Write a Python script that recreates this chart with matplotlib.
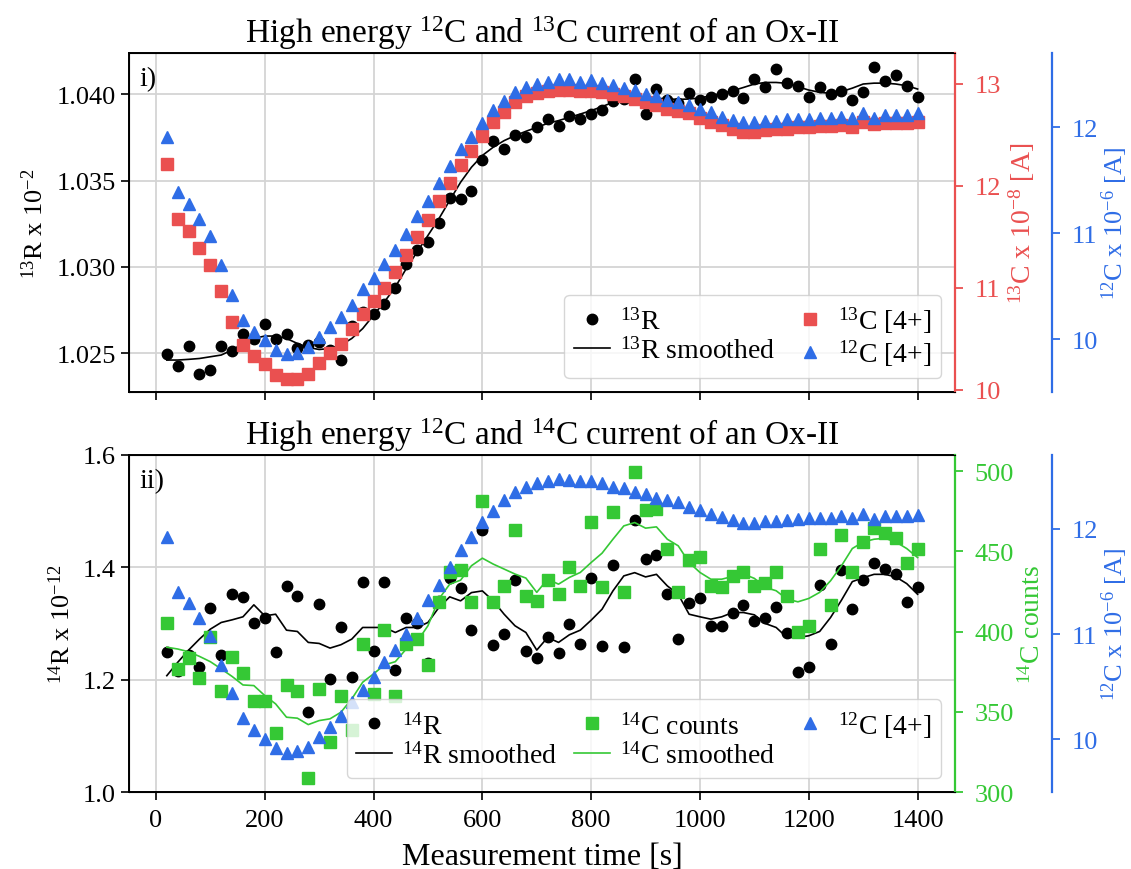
import numpy as np
import matplotlib
matplotlib.use("Agg")
import matplotlib.pyplot as plt

plt.rcParams["font.family"] = "serif"
plt.rcParams["font.serif"] = ["Liberation Serif", "DejaVu Serif"]
plt.rcParams["mathtext.fontset"] = "custom"
plt.rcParams["mathtext.rm"] = "Liberation Serif"
plt.rcParams["mathtext.it"] = "Liberation Serif:italic"
plt.rcParams["mathtext.bf"] = "Liberation Serif:bold"
plt.rcParams["font.size"] = 19

RED = "#ea5050"
BLUE = "#2f6de6"
GREEN = "#35c835"
GRID = "#d4d4d4"

# measurement time, one point every 20 s
time_s = np.arange(20, 1401, 20)

# ---- panel i) : 13C run ----
r13 = [1.02495, 1.02428, 1.02542, 1.02380, 1.02403, 1.02542, 1.02515, 1.02611, 1.02582, 1.02667,
       1.02582, 1.02609, 1.02530, 1.02550, 1.02567, 1.02520, 1.02461, 1.02657, 1.02740, 1.02730,
       1.02784, 1.02879, 1.03019, 1.03100, 1.03145, 1.03254, 1.03399, 1.03395, 1.03443, 1.03617,
       1.03728, 1.03684, 1.03765, 1.03751, 1.03809, 1.03857, 1.03815, 1.03877, 1.03857, 1.03886,
       1.03911, 1.03964, 1.03973, 1.04088, 1.03886, 1.04031, 1.03970, 1.03950, 1.04006, 1.03969,
       1.03983, 1.04002, 1.04021, 1.03979, 1.04088, 1.04044, 1.04146, 1.04064, 1.04046, 1.03983,
       1.04044, 1.04002, 1.04021, 1.03969, 1.04016, 1.04160, 1.04075, 1.04114, 1.04046, 1.03983]

r13_smooth = [1.02461, 1.02461, 1.02465, 1.02470, 1.02480, 1.02490, 1.02519, 1.02557, 1.02586, 1.02600,
              1.02600, 1.02586, 1.02557, 1.02534, 1.02522, 1.02528, 1.02548, 1.02586, 1.02643, 1.02721,
              1.02798, 1.02884, 1.02990, 1.03087, 1.03183, 1.03279, 1.03386, 1.03491, 1.03578, 1.03646,
              1.03694, 1.03732, 1.03761, 1.03786, 1.03809, 1.03832, 1.03848, 1.03867, 1.03886, 1.03906,
              1.03929, 1.03954, 1.03973, 1.03983, 1.03980, 1.03977, 1.03974, 1.03971, 1.03973, 1.03979,
              1.03992, 1.04006, 1.04021, 1.04040, 1.04060, 1.04069, 1.04069, 1.04064, 1.04044, 1.04025,
              1.04012, 1.04006, 1.04016, 1.04036, 1.04060, 1.04065, 1.04065, 1.04060, 1.04050, 1.04031]

c13_current = [12.21, 11.67, 11.56, 11.39, 11.22, 10.97, 10.67, 10.44, 10.33, 10.25,
               10.15, 10.11, 10.11, 10.16, 10.26, 10.36, 10.45, 10.60, 10.74, 10.87,
               11.00, 11.15, 11.32, 11.50, 11.66, 11.85, 12.03, 12.20, 12.34, 12.49,
               12.62, 12.72, 12.82, 12.88, 12.91, 12.93, 12.94, 12.94, 12.93, 12.93,
               12.92, 12.90, 12.88, 12.85, 12.82, 12.79, 12.75, 12.73, 12.71, 12.66,
               12.62, 12.59, 12.56, 12.53, 12.53, 12.55, 12.56, 12.56, 12.57, 12.57,
               12.58, 12.58, 12.59, 12.57, 12.62, 12.60, 12.61, 12.61, 12.61, 12.62]

c12_current_a = [11.91, 11.39, 11.27, 11.13, 10.97, 10.70, 10.42, 10.18, 10.07, 9.99,
                 9.90, 9.86, 9.87, 9.92, 10.02, 10.11, 10.21, 10.32, 10.47, 10.58,
                 10.71, 10.84, 10.99, 11.16, 11.30, 11.47, 11.63, 11.79, 11.91, 12.04,
                 12.16, 12.25, 12.33, 12.38, 12.41, 12.43, 12.45, 12.45, 12.43, 12.44,
                 12.42, 12.40, 12.37, 12.35, 12.31, 12.29, 12.26, 12.24, 12.21, 12.17,
                 12.14, 12.10, 12.07, 12.05, 12.05, 12.06, 12.06, 12.08, 12.08, 12.08,
                 12.09, 12.09, 12.10, 12.09, 12.13, 12.09, 12.11, 12.11, 12.11, 12.13]

# ---- panel ii) : 14C run ----
r14 = [1.2485, 1.2148, 1.2432, 1.2231, 1.3284, 1.2444, 1.3533, 1.3474, 1.3005, 1.3106,
       1.2485, 1.3669, 1.3491, 1.1432, 1.3343, 1.2011, 1.2941, 1.2041, 1.3745, 1.2515,
       1.3740, 1.2178, 1.3089, 1.3005, 1.2290, 1.3400, 1.3816, 1.3627, 1.2882, 1.4657,
       1.2615, 1.2810, 1.3769, 1.2515, 1.2379, 1.2751, 1.2467, 1.2988, 1.2633, 1.3816,
       1.2604, 1.4035, 1.2574, 1.4834, 1.4154, 1.4212, 1.3520, 1.2722, 1.3360, 1.3449,
       1.2947, 1.2947, 1.3195, 1.3325, 1.3048, 1.3089, 1.3302, 1.2828, 1.2130, 1.2231,
       1.3687, 1.2633, 1.3946, 1.3266, 1.3769, 1.4083, 1.3976, 1.3888, 1.3390, 1.3651]

r14_smooth = [1.2071, 1.2308, 1.2526, 1.2722, 1.2899, 1.3018, 1.3065, 1.3119, 1.3332, 1.3136,
              1.3165, 1.2881, 1.2858, 1.2663, 1.2645, 1.2562, 1.2622, 1.2722, 1.2929, 1.2929,
              1.2929, 1.2840, 1.2929, 1.2929, 1.3018, 1.3284, 1.3474, 1.3403, 1.3550, 1.3580,
              1.3403, 1.3165, 1.2959, 1.2840, 1.2526, 1.2751, 1.2663, 1.2799, 1.2881, 1.3059,
              1.3254, 1.3580, 1.3847, 1.3905, 1.3829, 1.3875, 1.3669, 1.3520, 1.3165, 1.3119,
              1.3077, 1.3119, 1.3195, 1.3195, 1.3154, 1.3000, 1.2929, 1.2751, 1.2751, 1.2781,
              1.2858, 1.3106, 1.3414, 1.3745, 1.3816, 1.3875, 1.3875, 1.3829, 1.3710, 1.3520]

c14_counts = [405.1, 376.7, 383.3, 370.9, 396.8, 363.2, 384.0, 374.0, 357.0, 357.0,
              336.9, 366.7, 362.8, 308.9, 364.2, 331.1, 359.7, 338.9, 392.2, 361.1,
              401.1, 360.1, 392.2, 395.3, 379.2, 418.2, 437.2, 438.4, 418.2, 481.3,
              418.2, 428.5, 463.3, 422.3, 419.2, 432.2, 423.3, 440.3, 428.5, 468.5,
              427.5, 474.5, 424.4, 499.6, 475.6, 476.6, 451.7, 424.4, 444.5, 446.5,
              428.5, 427.5, 434.3, 437.2, 428.5, 430.2, 437.2, 422.3, 399.5, 403.2,
              451.7, 416.5, 460.0, 437.2, 455.5, 464.2, 461.3, 458.1, 442.4, 451.3]

c14_smooth = [390.2, 389.1, 387.4, 384.5, 381.2, 376.7, 372.0, 366.7, 366.3, 360.1,
              354.9, 346.6, 346.0, 342.0, 344.5, 345.6, 349.7, 358.0, 368.4, 373.6,
              379.2, 381.2, 389.1, 393.7, 403.6, 420.2, 429.5, 432.0, 441.0, 445.7,
              442.0, 438.9, 435.8, 433.3, 424.4, 432.6, 429.5, 433.7, 436.8, 443.0,
              448.8, 457.5, 465.8, 467.9, 464.4, 465.2, 457.5, 453.4, 443.0, 436.8,
              432.6, 432.6, 434.3, 435.8, 433.1, 427.5, 425.4, 420.2, 418.5, 420.6,
              424.4, 431.6, 440.9, 451.7, 455.8, 457.5, 458.1, 455.8, 451.7, 446.1]

c12_current_b = [11.92, 11.40, 11.29, 11.15, 10.98, 10.71, 10.44, 10.20, 10.09, 10.00,
                 9.92, 9.87, 9.89, 9.93, 10.02, 10.12, 10.22, 10.35, 10.47, 10.59,
                 10.73, 10.85, 11.00, 11.15, 11.32, 11.47, 11.64, 11.80, 11.92, 12.06,
                 12.17, 12.27, 12.35, 12.40, 12.43, 12.45, 12.47, 12.46, 12.45, 12.45,
                 12.43, 12.40, 12.39, 12.35, 12.33, 12.29, 12.27, 12.25, 12.21, 12.18,
                 12.14, 12.11, 12.08, 12.05, 12.05, 12.07, 12.07, 12.08, 12.09, 12.10,
                 12.10, 12.10, 12.12, 12.10, 12.14, 12.09, 12.12, 12.12, 12.12, 12.13]

TITLE_FS = 24
LEG_KW = dict(fontsize=20, handlelength=1.3, handletextpad=0.35, labelspacing=0.1,
              borderpad=0.35, framealpha=0.8, loc="lower right", columnspacing=0.6)


def color_axis(ax, color, offset=None, label_fs=20):
    side = ax.spines["right"]
    if offset is not None:
        side.set_position(("axes", offset))
    side.set_color(color)
    side.set_linewidth(1.6)
    ax.tick_params(axis="y", colors=color, width=1.3, length=6, pad=8)
    ax.yaxis.label.set_color(color)
    ax.yaxis.label.set_fontsize(label_fs)


fig = plt.figure(figsize=(11.31, 8.7), dpi=100)
ax1 = fig.add_axes([0.1143, 0.5483, 0.7302, 0.3897])
ax2 = fig.add_axes([0.1143, 0.0885, 0.7302, 0.3874], sharex=ax1)

# ---------- top panel ----------
ax1.grid(True, color=GRID, lw=1.3)
ax1.set_axisbelow(True)
h1, = ax1.plot(time_s, r13, "o", color="black", ms=7.5, label="$^{13}$R")
h2, = ax1.plot(time_s, r13_smooth, "-", color="black", lw=1.2, label="$^{13}$R smoothed")
ax1.set_ylim(1.02276, 1.0424)
ax1.set_yticks([1.025, 1.030, 1.035, 1.040])
ax1.set_ylabel("$^{13}$R x 10$^{-2}$", labelpad=6)
ax1.tick_params(labelbottom=False, length=6, width=1.2)
ax1.set_title("High energy $^{12}$C and $^{13}$C current of an Ox-II", fontsize=TITLE_FS, pad=8)
ax1.text(0.012, 0.96, "i)", transform=ax1.transAxes, ha="left", va="top", fontsize=20)

ax1r = ax1.twinx()
h3, = ax1r.plot(time_s, c13_current, "s", color=RED, ms=8.5, label="$^{13}$C [4+]")
ax1r.set_ylim(9.98, 13.3)
ax1r.set_yticks([10, 11, 12, 13])
ax1r.set_ylabel("$^{13}$C x 10$^{-8}$ [A]", labelpad=4)
color_axis(ax1r, RED)

ax1b = ax1.twinx()
h4, = ax1b.plot(time_s, c12_current_a, "^", color=BLUE, ms=9, label="$^{12}$C [4+]")
ax1b.set_ylim(9.5, 12.7)
ax1b.set_yticks([10, 11, 12])
ax1b.set_ylabel("$^{12}$C x 10$^{-6}$ [A]", labelpad=1)
color_axis(ax1b, BLUE, offset=1.117, label_fs=19)
for s in ("top", "bottom", "left"):
    ax1b.spines[s].set_visible(False)

ax1b.legend(handles=[h1, h2, h3, h4], ncol=2, **LEG_KW)

# ---------- bottom panel ----------
ax2.grid(True, color=GRID, lw=1.3)
ax2.set_axisbelow(True)
g1, = ax2.plot(time_s, r14, "o", color="black", ms=7.5, label="$^{14}$R")
g2, = ax2.plot(time_s, r14_smooth, "-", color="black", lw=1.2, label="$^{14}$R smoothed")
ax2.set_ylim(1.0, 1.6)
ax2.set_yticks([1.0, 1.2, 1.4, 1.6])
ax2.set_ylabel("$^{14}$R x 10$^{-12}$", labelpad=6)
ax2.set_xlabel("Measurement time [s]", fontsize=23, labelpad=8)
ax2.set_xticks([0, 200, 400, 600, 800, 1000, 1200, 1400])
ax2.tick_params(length=6, width=1.2)
ax2.tick_params(axis="x", pad=6)
ax2.set_title("High energy $^{12}$C and $^{14}$C current of an Ox-II", fontsize=TITLE_FS, pad=8)
ax2.text(0.012, 0.96, "ii)", transform=ax2.transAxes, ha="left", va="top", fontsize=20)

ax2g = ax2.twinx()
g3, = ax2g.plot(time_s, c14_counts, "s", color=GREEN, ms=8.5, label="$^{14}$C counts")
g4, = ax2g.plot(time_s, c14_smooth, "-", color=GREEN, lw=1.2, label="$^{14}$C smoothed")
ax2g.set_ylim(300, 510)
ax2g.set_yticks([300, 350, 400, 450, 500])
ax2g.set_ylabel("$^{14}$C counts", labelpad=4)
color_axis(ax2g, GREEN)

ax2b = ax2.twinx()
g5, = ax2b.plot(time_s, c12_current_b, "^", color=BLUE, ms=9, label="$^{12}$C [4+]")
ax2b.set_ylim(9.5, 12.7)
ax2b.set_yticks([10, 11, 12])
ax2b.set_ylabel("$^{12}$C x 10$^{-6}$ [A]", labelpad=1)
color_axis(ax2b, BLUE, offset=1.117, label_fs=19)
for s in ("top", "bottom", "left"):
    ax2b.spines[s].set_visible(False)

ax2b.legend(handles=[g1, g2, g3, g4, g5], ncol=3, **LEG_KW)

for a in (ax1, ax2):
    for s in a.spines.values():
        s.set_linewidth(1.4)

fig.savefig("out.png", dpi=100)
